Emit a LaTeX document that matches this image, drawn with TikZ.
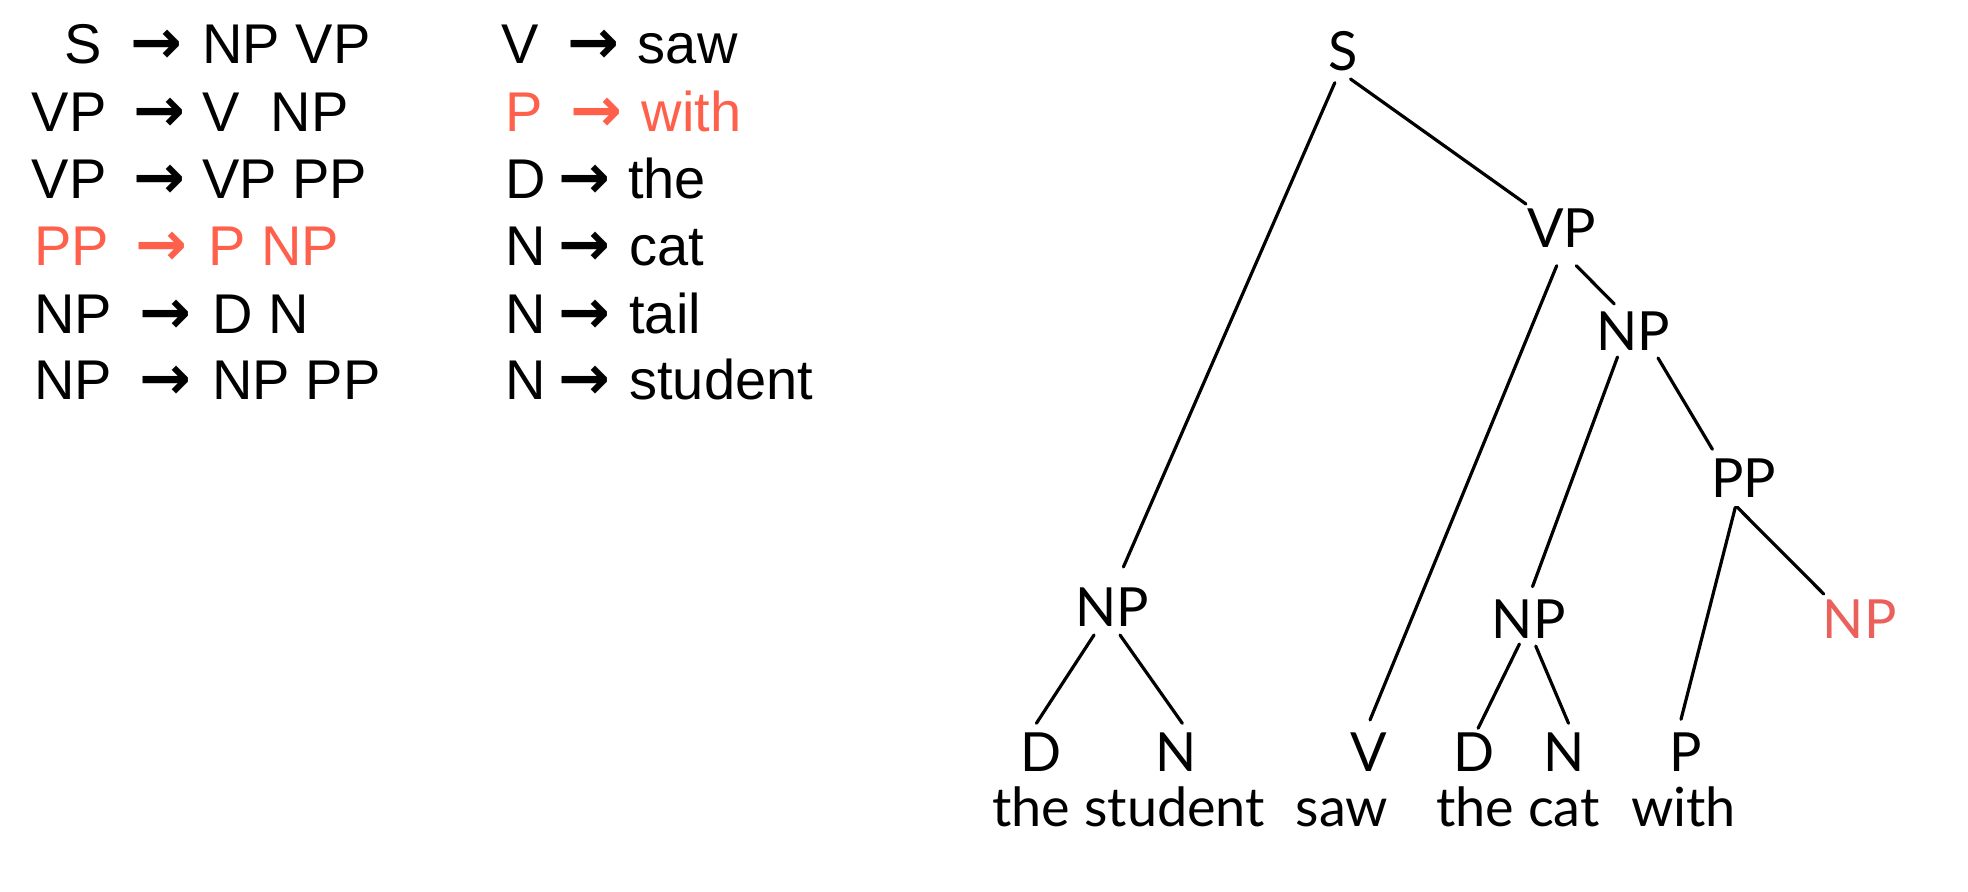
\documentclass[tikz,border=0pt]{standalone}
\usepackage{fontspec}
\setmainfont{Liberation Sans}
\newfontfamily\treefont{Lato}
\newfontfamily\arrowfont{DejaVu Sans}
\definecolor{rulered}{RGB}{255,96,76}
\definecolor{treered}{RGB}{235,96,90}
\begin{document}
\begin{tikzpicture}[x=0.5pt,y=-0.5pt,
  gram/.style={anchor=base west, inner sep=0pt, font=\fontsize{28}{30}\selectfont},
  arr/.style={anchor=base, inner sep=0pt, font=\arrowfont\bfseries\fontsize{31}{34}\selectfont},
  tnode/.style={anchor=base, inner sep=0pt, font=\treefont\fontsize{27}{30}\selectfont},
  edge/.style={line width=1.6pt, line cap=round}]
\path[use as bounding box, fill=white] (0,0) rectangle (1968,892);
\newcommand{\bigarrow}{\makebox[0.72em]{→}}

% ---- grammar, left column
\node[gram] (l1) at (64,63.3) {S};
\node[arr] (a1) at (156.5,63.3) {\bigarrow};
\node[gram] (r1) at (202,63.3) {NP VP};
\node[gram] (l2) at (31.5,131.7) {VP};
\node[arr] (a2) at (159.8,131.7) {\bigarrow};
\node[gram] (r2) at (202,131.7) {V~~NP};
\node[gram] (l3) at (31.5,199) {VP};
\node[arr] (a3) at (159.8,199) {\bigarrow};
\node[gram] (r3) at (202,199) {VP PP};
\node[gram, text=rulered] (l4) at (33.7,265.7) {PP};
\node[arr, text=rulered] (a4) at (161.4,265.7) {\bigarrow};
\node[gram, text=rulered] (r4) at (208,265.7) {P NP};
\node[gram] (l5) at (33.7,333.3) {NP};
\node[arr] (a5) at (165.8,333.3) {\bigarrow};
\node[gram] (r5) at (212,333.3) {D N};
\node[gram] (l6) at (33.7,400) {NP};
\node[arr] (a6) at (165.8,400) {\bigarrow};
\node[gram] (r6) at (212,400) {NP PP};

% ---- grammar, right column
\node[gram] (m1) at (501,63.3) {V};
\node[arr] (b1) at (593.8,63.3) {\bigarrow};
\node[gram] (s1) at (637.5,63.3) {saw};
\node[gram, text=rulered] (m2) at (505.4,131.7) {P};
\node[arr, text=rulered] (b2) at (596.8,131.7) {\bigarrow};
\node[gram, text=rulered] (s2) at (641.3,131.7) {with};
\node[gram] (m3) at (505.4,199) {D};
\node[arr] (b3) at (584.3,199) {\bigarrow};
\node[gram] (s3) at (627.7,199) {the};
\node[gram] (m4) at (505.4,265.7) {N};
\node[arr] (b4) at (584.3,265.7) {\bigarrow};
\node[gram] (s4) at (629,265.7) {cat};
\node[gram] (m5) at (505.4,333.3) {N};
\node[arr] (b5) at (584.3,333.3) {\bigarrow};
\node[gram] (s5) at (629,333.3) {tail};
\node[gram] (m6) at (505.4,400) {N};
\node[arr] (b6) at (584.3,400) {\bigarrow};
\node[gram] (s6) at (629,400) {student};

% ---- tree nodes
\node[tnode] (S) at (1342.7,71) {S};
\node[tnode] (VP) at (1561.8,248) {VP};
\node[tnode] (NPu) at (1633,351) {NP};
\node[tnode] (PP) at (1743.9,497) {PP};
\node[tnode, text=treered] (NPr) at (1859.7,638.3) {NP};
\node[tnode] (NPl) at (1112,626.7) {NP};
\node[tnode] (NPc) at (1528.8,638) {NP};
\node[tnode] (D1) at (1040.7,771.7) {D};
\node[tnode] (N1) at (1176.5,771.7) {N};
\node[tnode] (V) at (1368.9,771.7) {V};
\node[tnode] (D2) at (1474.5,771.7) {D};
\node[tnode] (N2) at (1564.2,771.7) {N};
\node[tnode] (P) at (1685.6,771.7) {P};
\node[tnode] (w1) at (1128.7,826) {the student};
\node[tnode] (w2) at (1342,826) {saw};
\node[tnode] (w3) at (1518,826) {the cat};
\node[tnode] (w4) at (1683.5,826) {with};

% ---- tree edges
\draw[edge] ([shift={(-7.9,11.7)}]S.base) -- ([shift={(11.4,-59.7)}]NPl.base);
\draw[edge] ([shift={(7.8,8)}]S.base) -- ([shift={(-35.9,-44)}]VP.base);
\draw[edge] ([shift={(-5.1,17.7)}]VP.base) -- ([shift={(1.1,-51.7)}]V.base);
\draw[edge] ([shift={(14.5,17.7)}]VP.base) -- ([shift={(-18.7,-47)}]NPu.base);
\draw[edge] ([shift={(-15.5,6)}]NPu.base) -- ([shift={(3.7,-51.3)}]NPc.base);
\draw[edge] ([shift={(25,7)}]NPu.base) -- ([shift={(-31.5,-47.7)}]PP.base);
\draw[edge] ([shift={(-8.6,10.3)}]PP.base) -- ([shift={(-4.6,-52.4)}]P.base);
\draw[edge] ([shift={(-6.6,10.3)}]PP.base) -- ([shift={(-36,-44.3)}]NPr.base);
\draw[edge] ([shift={(-18,8.3)}]NPl.base) -- ([shift={(-4.3,-48.4)}]D1.base);
\draw[edge] ([shift={(8,8.3)}]NPl.base) -- ([shift={(5.8,-48.4)}]N1.base);
\draw[edge] ([shift={(-9.4,6)}]NPc.base) -- ([shift={(3.6,-43.4)}]D2.base);
\draw[edge] ([shift={(6.9,8)}]NPc.base) -- ([shift={(4.3,-48.4)}]N2.base);
\end{tikzpicture}
\end{document}
